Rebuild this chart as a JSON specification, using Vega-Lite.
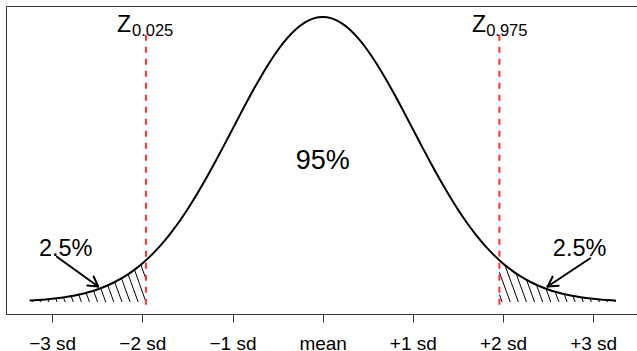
{
  "$schema": "https://vega.github.io/schema/vega-lite/v6.json",
  "width": 631,
  "height": 308,
  "autosize": {"type": "none"},
  "padding": {"left": 6, "top": 6, "right": 0, "bottom": 37},
  "background": "white",
  "config": {"view": {"stroke": "#333", "strokeWidth": 1}, "font": "Liberation Sans"},
  "datasets": {
    "curve": [
      {"x": -3.25, "y": 0.002029}, {"x": -3.2, "y": 0.002384}, {"x": -3.1, "y": 0.003267}, {"x": -3.0, "y": 0.004432},
      {"x": -2.9, "y": 0.005953}, {"x": -2.8, "y": 0.007915}, {"x": -2.7, "y": 0.010421}, {"x": -2.6, "y": 0.013583},
      {"x": -2.5, "y": 0.017528}, {"x": -2.4, "y": 0.022395}, {"x": -2.3, "y": 0.028327}, {"x": -2.2, "y": 0.035475},
      {"x": -2.1, "y": 0.043984}, {"x": -2.0, "y": 0.053991}, {"x": -1.9, "y": 0.065616}, {"x": -1.8, "y": 0.07895},
      {"x": -1.7, "y": 0.094049}, {"x": -1.6, "y": 0.110921}, {"x": -1.5, "y": 0.129518}, {"x": -1.4, "y": 0.149727},
      {"x": -1.3, "y": 0.171369}, {"x": -1.2, "y": 0.194186}, {"x": -1.1, "y": 0.217852}, {"x": -1.0, "y": 0.241971},
      {"x": -0.9, "y": 0.266085}, {"x": -0.8, "y": 0.289692}, {"x": -0.7, "y": 0.312254}, {"x": -0.6, "y": 0.333225},
      {"x": -0.5, "y": 0.352065}, {"x": -0.4, "y": 0.36827}, {"x": -0.3, "y": 0.381388}, {"x": -0.2, "y": 0.391043},
      {"x": -0.1, "y": 0.396953}, {"x": 0.0, "y": 0.398942}, {"x": 0.1, "y": 0.396953}, {"x": 0.2, "y": 0.391043},
      {"x": 0.3, "y": 0.381388}, {"x": 0.4, "y": 0.36827}, {"x": 0.5, "y": 0.352065}, {"x": 0.6, "y": 0.333225},
      {"x": 0.7, "y": 0.312254}, {"x": 0.8, "y": 0.289692}, {"x": 0.9, "y": 0.266085}, {"x": 1.0, "y": 0.241971},
      {"x": 1.1, "y": 0.217852}, {"x": 1.2, "y": 0.194186}, {"x": 1.3, "y": 0.171369}, {"x": 1.4, "y": 0.149727},
      {"x": 1.5, "y": 0.129518}, {"x": 1.6, "y": 0.110921}, {"x": 1.7, "y": 0.094049}, {"x": 1.8, "y": 0.07895},
      {"x": 1.9, "y": 0.065616}, {"x": 2.0, "y": 0.053991}, {"x": 2.1, "y": 0.043984}, {"x": 2.2, "y": 0.035475},
      {"x": 2.3, "y": 0.028327}, {"x": 2.4, "y": 0.022395}, {"x": 2.5, "y": 0.017528}, {"x": 2.6, "y": 0.013583},
      {"x": 2.7, "y": 0.010421}, {"x": 2.8, "y": 0.007915}, {"x": 2.9, "y": 0.005953}, {"x": 3.0, "y": 0.004432},
      {"x": 3.1, "y": 0.003267}, {"x": 3.2, "y": 0.002384}, {"x": 3.25, "y": 0.002029}
    ],
    "hatch": [
      {"x": -3.216, "y": 0, "x2": -3.2224, "y2": 0.00222},
      {"x": -3.126, "y": 0, "x2": -3.1344, "y2": 0.00293},
      {"x": -3.036, "y": 0, "x2": -3.0471, "y2": 0.00384},
      {"x": -2.946, "y": 0, "x2": -2.9604, "y2": 0.00499},
      {"x": -2.856, "y": 0, "x2": -2.8745, "y2": 0.0064},
      {"x": -2.766, "y": 0, "x2": -2.7895, "y2": 0.00815},
      {"x": -2.676, "y": 0, "x2": -2.7056, "y2": 0.01026},
      {"x": -2.586, "y": 0, "x2": -2.6229, "y2": 0.01279},
      {"x": -2.496, "y": 0, "x2": -2.5415, "y2": 0.01579},
      {"x": -2.406, "y": 0, "x2": -2.4616, "y2": 0.01928},
      {"x": -2.316, "y": 0, "x2": -2.3832, "y2": 0.02332},
      {"x": -2.226, "y": 0, "x2": -2.3065, "y2": 0.0279},
      {"x": -2.136, "y": 0, "x2": -2.2314, "y2": 0.03309},
      {"x": -2.046, "y": 0, "x2": -2.1581, "y2": 0.03887},
      {"x": -1.96, "y": 0, "x2": -2.0872, "y2": 0.04519},
      {"x": -1.96, "y": 0.03227, "x2": -2.0173, "y2": 0.05215},
      {"x": 1.99, "y": 0, "x2": 1.96, "y2": 0.0104},
      {"x": 2.08, "y": 0, "x2": 1.96, "y2": 0.04164},
      {"x": 2.17, "y": 0, "x2": 2.0209, "y2": 0.05172},
      {"x": 2.26, "y": 0, "x2": 2.1445, "y2": 0.04006},
      {"x": 2.35, "y": 0, "x2": 2.2607, "y2": 0.031},
      {"x": 2.44, "y": 0, "x2": 2.3708, "y2": 0.02402},
      {"x": 2.53, "y": 0, "x2": 2.4765, "y2": 0.01857},
      {"x": 2.62, "y": 0, "x2": 2.5786, "y2": 0.01435},
      {"x": 2.71, "y": 0, "x2": 2.6782, "y2": 0.01104},
      {"x": 2.8, "y": 0, "x2": 2.7756, "y2": 0.00846},
      {"x": 2.89, "y": 0, "x2": 2.8714, "y2": 0.00645},
      {"x": 2.98, "y": 0, "x2": 2.9659, "y2": 0.0049},
      {"x": 3.07, "y": 0, "x2": 3.0593, "y2": 0.0037},
      {"x": 3.16, "y": 0, "x2": 3.152, "y2": 0.00278},
      {"x": 3.25, "y": 0, "x2": 3.244, "y2": 0.00205}
    ],
    "zlines": [
      {"x": -1.96, "y": -0.004, "y2": 0.374},
      {"x": 1.96, "y": -0.004, "y2": 0.374}
    ],
    "arrows": [
      {"x": -2.948, "y": 0.0634, "x2": -2.49, "y2": 0.0217},
      {"x": -2.49, "y": 0.0217, "x2": -2.54, "y2": 0.0357},
      {"x": -2.49, "y": 0.0217, "x2": -2.611, "y2": 0.0232},
      {"x": 2.967, "y": 0.0612, "x2": 2.495, "y2": 0.0217},
      {"x": 2.495, "y": 0.0217, "x2": 2.617, "y2": 0.0227},
      {"x": 2.495, "y": 0.0217, "x2": 2.55, "y2": 0.0354}
    ],
    "zmain": [
      {"x": -2.281, "y": 0.378, "label": "Z"},
      {"x": 1.655, "y": 0.378, "label": "Z"}
    ],
    "zsub": [
      {"x": -2.115, "y": 0.3727, "label": "0.025"},
      {"x": 1.813, "y": 0.3727, "label": "0.975"}
    ],
    "center": [
      {"x": 0, "y": 0.1857, "label": "95%"}
    ],
    "tails": [
      {"x": -2.85, "y": 0.065, "label": "2.5%"},
      {"x": 2.85, "y": 0.065, "label": "2.5%"}
    ]
  },
  "encoding": {
    "x": {
      "field": "x", "type": "quantitative",
      "scale": {"domain": [-3.512, 3.486], "nice": false, "zero": false},
      "axis": {
        "values": [-3, -2, -1, 0, 1, 2, 3],
        "labelExpr": "datum.value == 0 ? 'mean' : (datum.value < 0 ? '\u2212' + abs(datum.value) + ' sd' : '+' + datum.value + ' sd')",
        "title": null, "grid": false, "domain": false,
        "tickColor": "#333", "tickSize": 8, "tickWidth": 1,
        "labelFont": "Liberation Sans", "labelFontSize": 19, "labelColor": "black",
        "labelBaseline": "alphabetic", "labelPadding": 27.5,
        "labelFlush": false, "labelOverlap": false
      }
    },
    "y": {
      "field": "y", "type": "quantitative",
      "scale": {"domain": [-0.0168, 0.4143], "nice": false, "zero": false},
      "axis": null
    }
  },
  "layer": [
    {
      "data": {"name": "hatch"},
      "mark": {"type": "rule", "color": "black", "strokeWidth": 1},
      "encoding": {"x2": {"field": "x2"}, "y2": {"field": "y2"}}
    },
    {
      "data": {"name": "curve"},
      "mark": {"type": "line", "color": "black", "strokeWidth": 2, "interpolate": "monotone"}
    },
    {
      "data": {"name": "zlines"},
      "mark": {"type": "rule", "color": "#ff3030", "strokeWidth": 2, "strokeDash": [6, 6]},
      "encoding": {"y2": {"field": "y2"}}
    },
    {
      "data": {"name": "arrows"},
      "mark": {"type": "rule", "color": "black", "strokeWidth": 2, "strokeCap": "round"},
      "encoding": {"x2": {"field": "x2"}, "y2": {"field": "y2"}}
    },
    {
      "data": {"name": "zmain"},
      "mark": {"type": "text", "align": "left", "baseline": "alphabetic", "fontSize": 23, "color": "black"},
      "encoding": {"text": {"field": "label"}}
    },
    {
      "data": {"name": "zsub"},
      "mark": {"type": "text", "align": "left", "baseline": "alphabetic", "fontSize": 16.5, "color": "black"},
      "encoding": {"text": {"field": "label"}}
    },
    {
      "data": {"name": "center"},
      "mark": {"type": "text", "align": "center", "baseline": "alphabetic", "fontSize": 27, "color": "black"},
      "encoding": {"text": {"field": "label"}}
    },
    {
      "data": {"name": "tails"},
      "mark": {"type": "text", "align": "center", "baseline": "alphabetic", "fontSize": 23.5, "color": "black"},
      "encoding": {"text": {"field": "label"}}
    }
  ]
}
